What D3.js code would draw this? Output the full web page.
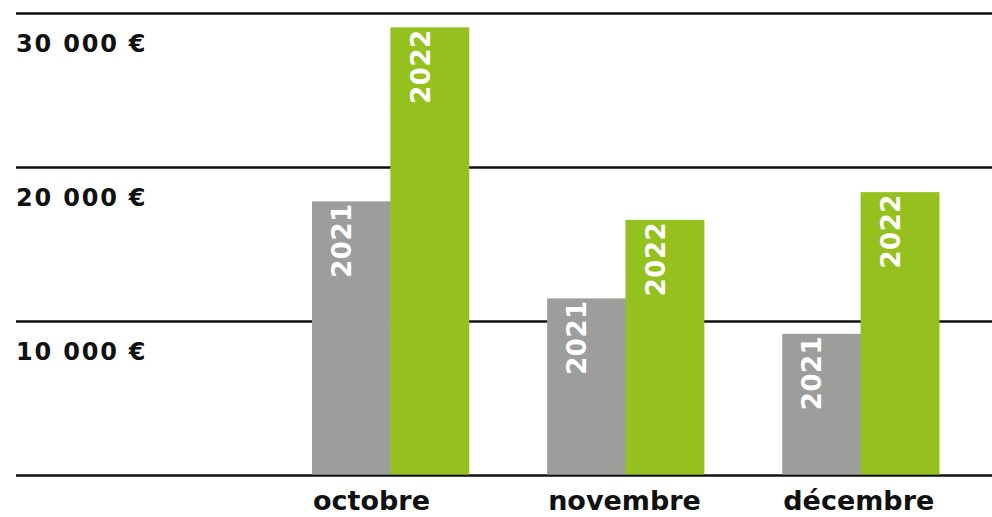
<!DOCTYPE html>
<html><head><meta charset="utf-8">
<script src="https://cdn.jsdelivr.net/npm/d3@7"></script>
<style>html,body{margin:0;padding:0;background:#fff;}svg{display:block;}</style>
</head><body>
<svg id="c" width="992" height="517"></svg>
<script>
const months = ["octobre", "novembre", "décembre"];
const years = ["2021", "2022"];
const values2021 = [17800, 11500, 9200];
const values2022 = [29100, 16600, 18400];
const yTicks = [0, 10000, 20000, 30000];
const yTickLabels = ["", "10 000 €", "20 000 €", "30 000 €"];
const colors = ["#9d9d9c", "#95c11f"];

const svg = d3.select("#c");
const y = d3.scaleLinear().domain([0, 30000]).range([475.5, 13.5]);
const x = d3.scaleBand().domain(months).range([312, 939]).paddingInner(1/3).paddingOuter(0);
const xs = d3.scaleBand().domain(years).range([0, x.bandwidth()]);

// gridlines
svg.append("g").selectAll("line").data(yTicks).join("line")
  .attr("x1", 16).attr("x2", 992)
  .attr("y1", d => y(d)).attr("y2", d => y(d))
  .attr("stroke", "#111").attr("stroke-width", 2.4);

// y labels
svg.append("g").selectAll("text").data(yTicks).join("text")
  .attr("x", 16).attr("y", d => y(d) + 38)
  .attr("font-family", "DejaVu Sans").attr("font-weight", "bold")
  .attr("font-size", 24).attr("letter-spacing", 1.8).attr("fill", "#111")
  .text((d, i) => yTickLabels[i]);

const data = [];
months.forEach((m, i) => {
  data.push({month: m, year: "2021", value: values2021[i]});
  data.push({month: m, year: "2022", value: values2022[i]});
});

const g = svg.append("g");
g.selectAll("rect").data(data).join("rect")
  .attr("x", d => x(d.month) + xs(d.year))
  .attr("width", xs.bandwidth() + 0.5)
  .attr("y", d => y(d.value))
  .attr("height", d => y(0) - 1 - y(d.value))
  .attr("fill", d => colors[years.indexOf(d.year)]);

g.selectAll("text").data(data).join("text")
  .attr("transform", d => {
    const cx = x(d.month) + xs(d.year) + xs.bandwidth() / 2;
    const ty = y(d.value) + 2;
    return `translate(${cx},${ty}) rotate(-90)`;
  })
  .attr("text-anchor", "end")
  .attr("font-family", "DejaVu Sans").attr("font-weight", "bold")
  .attr("font-size", 26).attr("letter-spacing", 0.5).attr("fill", "#fff")
  .text(d => d.year);

// month labels
svg.append("g").selectAll("text").data(months).join("text")
  .attr("x", d => x(d) + 1).attr("y", 510)
  .attr("font-family", "DejaVu Sans").attr("font-weight", "bold")
  .attr("font-size", 27).attr("fill", "#111")
  .text(d => d);
</script>
</body></html>
